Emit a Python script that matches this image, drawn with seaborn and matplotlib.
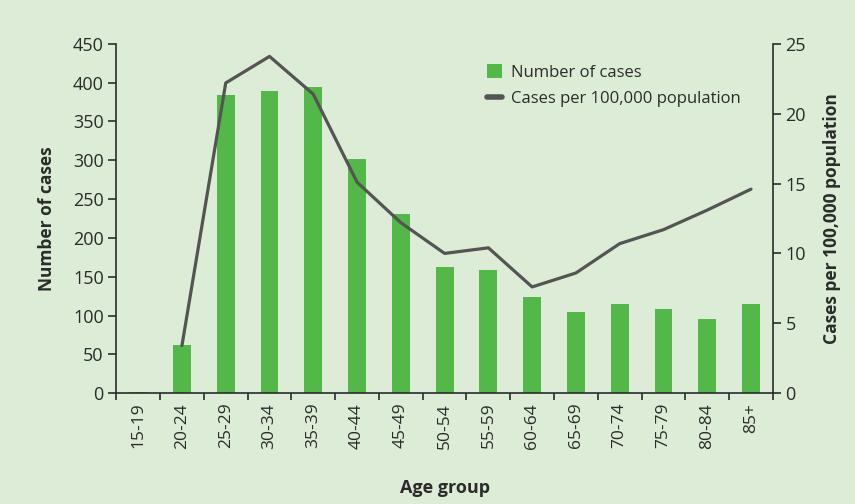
import numpy as np
import pandas as pd
import matplotlib.pyplot as plt
import seaborn as sns
from matplotlib.patches import Patch
from matplotlib.lines import Line2D

# Data
age_groups = ['15-19', '20-24', '25-29', '30-34', '35-39', '40-44', '45-49', '50-54',
              '55-59', '60-64', '65-69', '70-74', '75-79', '80-84', '85+']
cases = [2, 62, 384, 389, 394, 301, 231, 162, 158, 124, 104, 115, 108, 95, 115]
rate = [np.nan, 3.4, 22.2, 24.1, 21.4, 15.1, 12.2, 10.0, 10.4, 7.6, 8.6, 10.7, 11.7, 13.1, 14.6]

bg = '#dcecd6'
bar_color = '#52b848'
line_color = '#545454'
dark = '#2b2b2b'

sns.set_theme(style='white')
plt.rcParams['font.family'] = ['Open Sans', 'DejaVu Sans']
plt.rcParams['text.color'] = dark
plt.rcParams['axes.labelcolor'] = dark
plt.rcParams['xtick.color'] = dark
plt.rcParams['ytick.color'] = dark

df = pd.DataFrame({'age': age_groups, 'cases': cases, 'rate': rate, 'pos': np.arange(len(age_groups))})

fig = plt.figure(figsize=(8.55, 5.04), dpi=100, facecolor=bg)
ax = fig.add_axes([0.136, 0.22, 0.768, 0.693])
ax.set_facecolor(bg)

sns.barplot(data=df, x='age', y='cases', color=bar_color, saturation=1, width=0.41,
            edgecolor='none', linewidth=0, ax=ax)
ax.set_xlim(-0.5, len(age_groups) - 0.5)
ax.set_ylim(0, 450)
ax.set_yticks(range(0, 451, 50))

ax2 = ax.twinx()
sns.lineplot(data=df, x='pos', y='rate', color=line_color, linewidth=2.3, ax=ax2)
ax2.set_ylim(0, 25)
ax2.set_yticks(range(0, 26, 5))
ax2.set_xlim(-0.5, len(age_groups) - 0.5)

for a in (ax, ax2):
    a.spines['top'].set_visible(False)
    for s in a.spines.values():
        s.set_color(dark)
        s.set_linewidth(1.2)

ax.spines['right'].set_visible(False)
ax2.spines['left'].set_visible(False)
ax2.spines['bottom'].set_visible(False)

# ticks: labels at centres, tick marks at category boundaries
ax.set_xticks(np.arange(len(age_groups)))
ax.set_xticklabels(age_groups, rotation=90, fontsize=12.5)
ax.set_xticks(np.arange(-0.5, len(age_groups)), minor=True)
ax.tick_params(axis='x', which='major', length=0, pad=7)
ax.tick_params(axis='x', which='minor', length=5, width=1.2, direction='out', bottom=True)
ax.tick_params(axis='y', length=6, width=1.2, direction='out', left=True, labelsize=13, pad=3)
ax2.tick_params(axis='y', length=6, width=1.2, direction='out', right=True, labelsize=13, pad=3)

ax.set_xlabel('Age group', fontsize=13, fontweight='bold', labelpad=22)
ax.set_ylabel('Number of cases', fontsize=12.5, fontweight='bold', labelpad=12)
ax2.set_ylabel('Cases per 100,000 population', fontsize=12.5, fontweight='bold', labelpad=12)

handles = [Patch(facecolor=bar_color, edgecolor='none'),
           Line2D([0], [0], color=line_color, linewidth=4)]
ax2.legend(handles, ['Number of cases', 'Cases per 100,000 population'],
           loc='upper left', bbox_to_anchor=(0.555, 0.96), frameon=False,
           fontsize=12, handlelength=0.9, handleheight=0.9, handletextpad=0.5,
           labelspacing=0.55, borderaxespad=0)

fig.savefig('out.png', dpi=100, facecolor=bg)
